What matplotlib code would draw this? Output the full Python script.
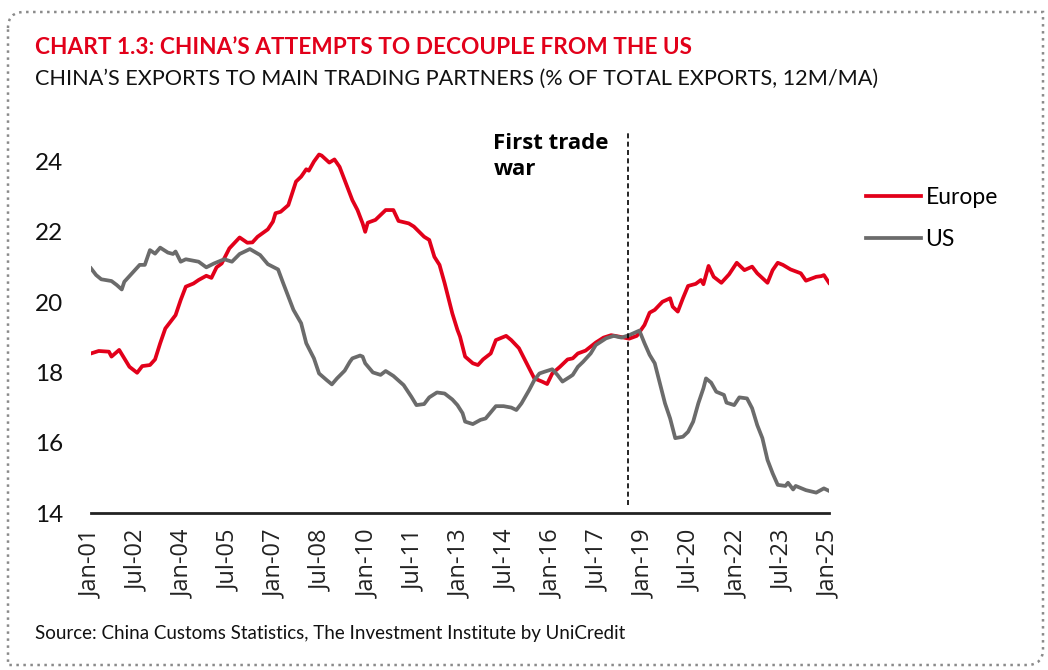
import matplotlib
matplotlib.use("Agg")
import matplotlib.pyplot as plt
from matplotlib.patches import PathPatch
from matplotlib.path import Path
from matplotlib.transforms import IdentityTransform

# months since Jan-2001, 12m moving average share of total exports (%)
eu_t = [0, 3, 7, 8, 11, 13, 15, 18, 20, 23, 25, 27, 29, 33, 35, 37, 40, 42, 45, 47,
        49, 51, 54, 58, 61, 63, 65, 69, 71, 72, 74, 77, 80, 82, 84, 85, 87, 89, 90, 93,
        95, 97, 100, 102, 104, 106, 107, 108, 111, 115, 118, 120, 124, 126, 130, 132, 134, 136, 138, 141,
        143, 144, 146, 149, 151, 153, 156, 158, 162, 164, 167, 170, 173, 176, 178, 180, 183, 186, 188, 190,
        193, 197, 200, 203, 206, 210, 213, 216, 218, 220, 223, 226, 227, 229, 231, 233, 236, 238, 239, 241,
        243, 246, 249, 252, 255, 258, 260, 264, 266, 268, 270, 273, 277, 279, 283, 285, 286, 288]
eu_v = [18.54, 18.61, 18.59, 18.45, 18.64, 18.40, 18.16, 17.99, 18.18, 18.21, 18.37, 18.83, 19.25, 19.63, 20.06, 20.44, 20.53, 20.63, 20.75, 20.69,
        20.99, 21.10, 21.53, 21.84, 21.69, 21.70, 21.86, 22.07, 22.29, 22.53, 22.57, 22.76, 23.43, 23.57, 23.78, 23.74, 24.00, 24.20, 24.17, 23.97,
        24.06, 23.85, 23.28, 22.90, 22.62, 22.24, 22.00, 22.26, 22.34, 22.62, 22.62, 22.31, 22.24, 22.15, 21.86, 21.77, 21.29, 21.06, 20.54, 19.68,
        19.21, 19.02, 18.45, 18.26, 18.21, 18.37, 18.54, 18.92, 19.04, 18.92, 18.69, 18.26, 17.83, 17.74, 17.67, 17.97, 18.16, 18.37, 18.40, 18.54,
        18.62, 18.85, 18.99, 19.06, 19.02, 18.96, 19.04, 19.35, 19.70, 19.78, 20.01, 20.11, 19.87, 19.73, 20.11, 20.46, 20.52, 20.63, 20.51, 21.03,
        20.72, 20.55, 20.79, 21.12, 20.91, 21.01, 20.82, 20.55, 20.91, 21.12, 21.06, 20.93, 20.82, 20.61, 20.72, 20.74, 20.77, 20.55]

us_t = [0, 2, 4, 8, 10, 12, 13, 16, 19, 21, 23, 25, 27, 30, 32, 33, 35, 37, 42, 45,
        48, 52, 55, 58, 60, 62, 66, 69, 73, 75, 79, 82, 84, 87, 89, 92, 94, 96, 99, 101,
        102, 105, 106, 107, 110, 113, 115, 118, 122, 125, 127, 130, 132, 135, 138, 141, 143, 145, 146, 149,
        152, 154, 158, 161, 164, 166, 168, 171, 173, 175, 177, 180, 182, 184, 187, 188, 190, 192, 195, 197,
        201, 204, 207, 210, 214, 216, 218, 220, 222, 224, 226, 228, 231, 233, 235, 237, 239, 240, 242, 244,
        247, 248, 251, 253, 256, 258, 260, 262, 264, 266, 268, 271, 272, 274, 275, 279, 283, 286, 288]
us_v = [20.96, 20.77, 20.65, 20.60, 20.49, 20.36, 20.58, 20.82, 21.06, 21.06, 21.48, 21.38, 21.55, 21.41, 21.37, 21.44, 21.15, 21.22, 21.15, 20.99,
        21.10, 21.22, 21.15, 21.37, 21.44, 21.51, 21.34, 21.08, 20.93, 20.54, 19.78, 19.40, 18.83, 18.40, 17.97, 17.78, 17.66, 17.83, 18.05, 18.30,
        18.40, 18.48, 18.45, 18.26, 18.00, 17.93, 18.04, 17.90, 17.64, 17.31, 17.07, 17.10, 17.29, 17.43, 17.40, 17.23, 17.07, 16.84, 16.60, 16.53,
        16.65, 16.69, 17.04, 17.04, 17.00, 16.93, 17.12, 17.50, 17.78, 17.97, 18.02, 18.09, 17.93, 17.74, 17.88, 17.93, 18.16, 18.30, 18.54, 18.78,
        18.97, 19.04, 18.99, 19.06, 19.19, 18.83, 18.50, 18.26, 17.69, 17.12, 16.69, 16.13, 16.17, 16.31, 16.60, 17.12, 17.55, 17.83, 17.71, 17.45,
        17.36, 17.14, 17.07, 17.29, 17.26, 16.98, 16.50, 16.13, 15.51, 15.13, 14.80, 14.77, 14.86, 14.67, 14.77, 14.65, 14.58, 14.70, 14.63]

tick_t = list(range(0, 289, 18))
tick_labels = ["Jan-01", "Jul-02", "Jan-04", "Jul-05", "Jan-07", "Jul-08", "Jan-10", "Jul-11", "Jan-13",
               "Jul-14", "Jan-16", "Jul-17", "Jan-19", "Jul-20", "Jan-22", "Jul-23", "Jan-25"]
y_ticks = [14, 16, 18, 20, 22, 24]
trade_war_t = 209.5  # mid 2018

RED = "#E2001A"
GREY = "#6B6B6B"
NARROW = ["Lato", "DejaVu Sans"]
OPEN = ["Open Sans", "DejaVu Sans"]

W, H = 1048, 670
fig = plt.figure(figsize=(W / 100, H / 100), dpi=100)

# dotted frame, rounded only top-left and bottom-right (pixel coords)
L, R, T, B, r = 8, 1043, 658, 5, 16
verts = [(L, T - r), (L, T), (L + r, T), (R, T), (R, B + r), (R, B), (R - r, B), (L, B), (L, T - r)]
codes = [Path.MOVETO, Path.CURVE3, Path.CURVE3, Path.LINETO, Path.LINETO,
         Path.CURVE3, Path.CURVE3, Path.LINETO, Path.LINETO]
frame = PathPatch(Path(verts, codes), transform=IdentityTransform(), fill=False,
                  edgecolor="#8A8A8A", linewidth=1.8, linestyle=(0, (1, 1.8)))
fig.add_artist(frame)

fig.text(35 / W, 1 - 47 / H, "CHART 1.3: CHINA\u2019S ATTEMPTS TO DECOUPLE FROM THE US",
         color=RED, fontsize=16.3, fontweight="bold", family=NARROW, va="center")
fig.text(35 / W, 1 - 79 / H, "CHINA\u2019S EXPORTS TO MAIN TRADING PARTNERS (% OF TOTAL EXPORTS, 12M/MA)",
         color="#111111", fontsize=15.6, family=NARROW, va="center")
fig.text(35 / W, 1 - 633 / H, "Source: China Customs Statistics, The Investment Institute by UniCredit",
         color="#111111", fontsize=13.5, family=NARROW, va="center")

ax = fig.add_axes([91 / W, 1 - 513 / H, 738 / W, (513 - 126.4) / H])
eu_line, = ax.plot(eu_t, eu_v, color=RED, lw=2.7, solid_joinstyle="round", label="Europe")
us_line, = ax.plot(us_t, us_v, color=GREY, lw=2.7, solid_joinstyle="round", label="US")
ax.vlines(trade_war_t, 14.23, 24.9, colors="black", linestyles=(0, (3, 2)), lw=1.2)
ax.text(157, 24.82, "First trade\nwar", fontsize=16, fontweight="bold", family=OPEN,
        va="top", ha="left", linespacing=1.35)

ax.set_xlim(0, 288)
ax.set_ylim(14, 25)
ax.set_xticks(tick_t)
ax.set_xticklabels(tick_labels, rotation=90, family=OPEN, fontsize=17, color="#222222")
ax.set_yticks(y_ticks)
ax.set_yticklabels([str(v) for v in y_ticks], family=NARROW, fontsize=17.5, color="#111111")
ax.tick_params(axis="both", length=0)
ax.tick_params(axis="x", pad=12)
ax.tick_params(axis="y", pad=20)
for s in ["top", "right", "left"]:
    ax.spines[s].set_visible(False)
ax.spines["bottom"].set_linewidth(2)
ax.spines["bottom"].set_color("#222222")

fig.legend(handles=[eu_line, us_line], loc="upper left", bbox_to_anchor=(866 / W, 1 - 187 / H),
           frameon=False, prop={"family": NARROW, "size": 16.5}, handlelength=2.4,
           handletextpad=0.2, labelspacing=0.9, borderpad=0, borderaxespad=0)

fig.savefig("out.png", dpi=100)
